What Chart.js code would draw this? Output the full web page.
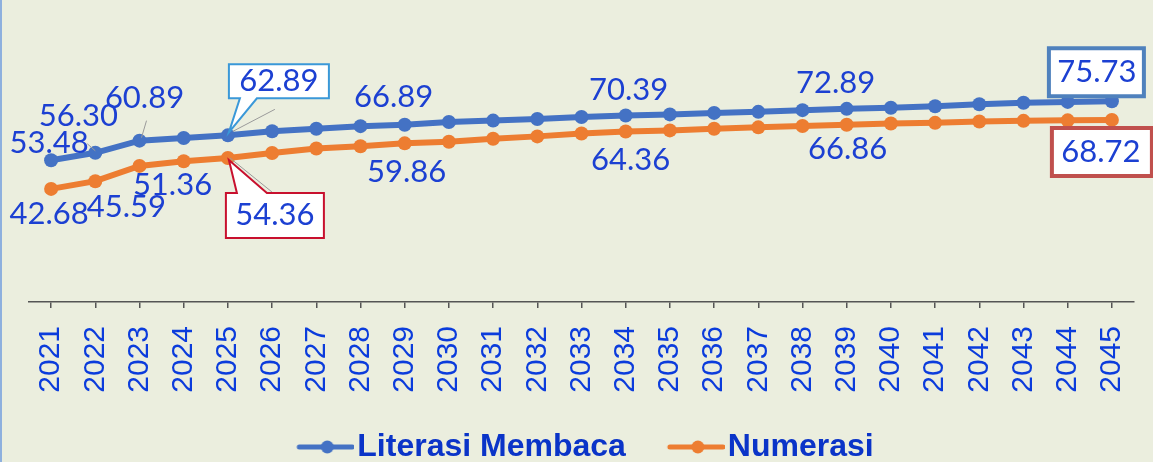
<!DOCTYPE html>
<html lang="id">
<head>
    <meta charset="UTF-8">
    <title>Literasi Membaca dan Numerasi 2021-2045</title>
    <script src="https://cdn.jsdelivr.net/npm/chart.js"></script>
    <style>
        html, body {
            margin: 0;
            padding: 0;
            overflow: hidden;
            background: #ebeede;
        }
        #wrap {
            position: relative;
            width: 1153px;
            height: 473px;
        }
        #edge {
            position: absolute;
            left: 0;
            top: 0;
            width: 2px;
            height: 473px;
            background: #8eb0de;
        }
    </style>
</head>
<body>
<div id="wrap">
    <canvas id="proyeksiChart" width="1153" height="473"></canvas>
    <div id="edge"></div>
</div>

<script>
    // data
    const years = ['2021', '2022', '2023', '2024', '2025', '2026', '2027', '2028', '2029', '2030',
        '2031', '2032', '2033', '2034', '2035', '2036', '2037', '2038', '2039', '2040',
        '2041', '2042', '2043', '2044', '2045'];
    const literasiMembaca = [53.48, 56.30, 60.89, 61.90, 62.89, 64.45, 65.35, 66.35, 66.89, 67.90,
        68.45, 69.05, 69.80, 70.39, 70.80, 71.35, 71.75, 72.40, 72.89, 73.30,
        73.85, 74.60, 75.20, 75.50, 75.73];
    const numerasi = [42.68, 45.59, 51.36, 53.10, 54.36, 56.25, 57.90, 58.75, 59.86, 60.45,
        61.60, 62.50, 63.60, 64.36, 64.75, 65.35, 65.90, 66.40, 66.86, 67.35,
        67.60, 68.10, 68.35, 68.55, 68.72];
    const seriesNames = ['Literasi Membaca', 'Numerasi'];
    const seriesColors = ['#4472c4', '#ed7d31'];

    // where the value labels sit, relative to their point
    const labelSpots = [
        [
            {i: 0, dx: -2, dy: -17},
            {i: 1, dx: -17, dy: -37, lead: [-8, -9, 0, -2]},
            {i: 2, dx: 5, dy: -43, lead: [7, -20, 2, -3]},
            {i: 4, dx: 51, dy: -54, box: {x: 1, y: -71, w: 100, h: 34, lw: 2, color: '#3a98d8', notch: 'bottom', n1: 11, n2: 28},
                lead: [47, -26, 5, -4]},
            {i: 8, dx: -11, dy: -28},
            {i: 13, dx: 3, dy: -25},
            {i: 18, dx: -11, dy: -26},
            {i: 24, dx: -15, dy: -29, box: {x: -63, y: -53, w: 95, h: 48, lw: 4, color: '#4f81bd'}}
        ],
        [
            {i: 0, dx: -2, dy: 25},
            {i: 1, dx: 31, dy: 26},
            {i: 2, dx: 33, dy: 19},
            {i: 4, dx: 47, dy: 57, box: {x: -2, y: 35, w: 98, h: 45, lw: 2, color: '#c8102e', notch: 'top', n1: 11, n2: 41},
                lead: [2, 0, 44, 34]},
            {i: 8, dx: 2, dy: 29},
            {i: 13, dx: 5, dy: 29},
            {i: 18, dx: 1, dy: 24},
            {i: 24, dx: -11, dy: 32, box: {x: -60, y: 8, w: 100, h: 48, lw: 4, color: '#c0504d'}}
        ]
    ];

    // legend marker: line with a dot
    function legendIcon(color) {
        const c = document.createElement('canvas');
        c.width = 78;
        c.height = 16;
        const g = c.getContext('2d');
        g.strokeStyle = color;
        g.lineWidth = 5;
        g.lineCap = 'round';
        g.beginPath();
        g.moveTo(23, 8);
        g.lineTo(76, 8);
        g.stroke();
        g.fillStyle = color;
        g.beginPath();
        g.arc(51, 8, 6.5, 0, Math.PI * 2);
        g.fill();
        return c;
    }
    const legendIcons = seriesColors.map(legendIcon);

    const valueLabels = {
        id: 'valueLabels',
        afterDatasetsDraw(chart) {
            const ctx = chart.ctx;
            ctx.save();
            chart.data.datasets.forEach((ds, di) => {
                const meta = chart.getDatasetMeta(di);
                labelSpots[di].forEach(s => {
                    const pt = meta.data[s.i];
                    const px = pt.x, py = pt.y;
                    if (s.lead) {
                        ctx.strokeStyle = '#9a9a9a';
                        ctx.lineWidth = 1;
                        ctx.beginPath();
                        ctx.moveTo(px + s.lead[0], py + s.lead[1]);
                        ctx.lineTo(px + s.lead[2], py + s.lead[3]);
                        ctx.stroke();
                    }
                    if (s.box) {
                        const b = s.box;
                        const L = px + b.x, T = py + b.y, R = L + b.w, B = T + b.h;
                        ctx.beginPath();
                        if (b.notch === 'bottom') {
                            ctx.moveTo(L, T);
                            ctx.lineTo(R, T);
                            ctx.lineTo(R, B);
                            ctx.lineTo(L + b.n2, B);
                            ctx.lineTo(px + 1, py - 3);
                            ctx.lineTo(L + b.n1, B);
                            ctx.lineTo(L, B);
                        } else if (b.notch === 'top') {
                            ctx.moveTo(L, T);
                            ctx.lineTo(L + b.n1, T);
                            ctx.lineTo(px + 1, py + 2);
                            ctx.lineTo(L + b.n2, T);
                            ctx.lineTo(R, T);
                            ctx.lineTo(R, B);
                            ctx.lineTo(L, B);
                        } else {
                            ctx.rect(L, T, b.w, b.h);
                        }
                        ctx.closePath();
                        ctx.fillStyle = '#ffffff';
                        ctx.fill();
                        ctx.lineWidth = b.lw;
                        ctx.strokeStyle = b.color;
                        ctx.lineJoin = 'miter';
                        ctx.stroke();
                    }
                    ctx.font = '31px Lato, "Open Sans", sans-serif';
                    ctx.fillStyle = '#1c40d2';
                    ctx.textAlign = 'center';
                    ctx.textBaseline = 'middle';
                    ctx.fillText(ds.data[s.i].toFixed(2), px + s.dx, py + s.dy);
                });
            });
            ctx.restore();
        }
    };

    const ctx = document.getElementById('proyeksiChart').getContext('2d');
    const proyeksiChart = new Chart(ctx, {
        type: 'line',
        data: {
            labels: years,
            datasets: [{
                label: seriesNames[0],
                data: literasiMembaca,
                borderColor: seriesColors[0],
                backgroundColor: seriesColors[0],
                borderWidth: 6,
                pointRadius: 7,
                pointBorderWidth: 0,
                pointBackgroundColor: seriesColors[0],
                tension: 0
            }, {
                label: seriesNames[1],
                data: numerasi,
                borderColor: seriesColors[1],
                backgroundColor: seriesColors[1],
                borderWidth: 6,
                pointRadius: 7,
                pointBorderWidth: 0,
                pointBackgroundColor: seriesColors[1],
                tension: 0
            }]
        },
        options: {
            responsive: false,
            animation: false,
            layout: {
                padding: {left: 29, right: 19, top: 37, bottom: 0}
            },
            scales: {
                x: {
                    offset: true,
                    grid: {
                        offset: false,
                        drawOnChartArea: false,
                        drawTicks: true,
                        tickLength: 6,
                        color: '#555555',
                        lineWidth: 1.5
                    },
                    border: {
                        display: true,
                        color: '#555555',
                        width: 1.5
                    },
                    ticks: {
                        minRotation: 90,
                        maxRotation: 90,
                        autoSkip: false,
                        padding: 18,
                        color: '#0b3cdc',
                        font: {family: '"Liberation Sans", Arial, sans-serif', size: 30}
                    },
                    afterFit(scale) {
                        scale.height = 95;
                        scale.paddingLeft = 0;
                        scale.paddingRight = 0;
                    }
                },
                y: {
                    display: false,
                    min: 0,
                    max: 100
                }
            },
            plugins: {
                title: {display: false},
                tooltip: {enabled: false},
                legend: {
                    position: 'bottom',
                    labels: {
                        usePointStyle: true,
                        pointStyleWidth: 52,
                        padding: 34,
                        color: '#0a34c8',
                        font: {family: '"Liberation Sans", Arial, sans-serif', size: 32, weight: 'bold'},
                        generateLabels(chart) {
                            const items = Chart.defaults.plugins.legend.labels.generateLabels(chart);
                            items.forEach((it, i) => {
                                it.pointStyle = legendIcons[i];
                            });
                            return items;
                        }
                    }
                }
            }
        },
        plugins: [valueLabels]
    });
</script>
</body>
</html>
